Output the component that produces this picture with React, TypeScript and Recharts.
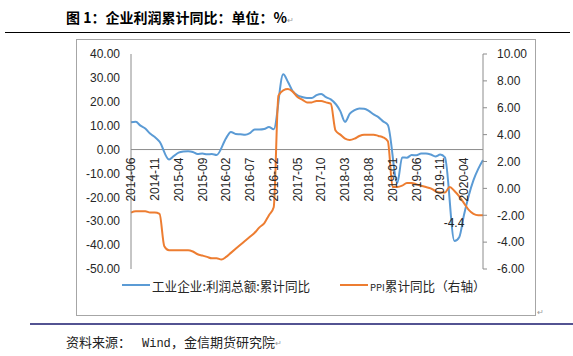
import React from "react";
import { LineChart, Line, XAxis, YAxis, ReferenceLine, Legend, LabelList } from "recharts";

// ---- categories (monthly, 2014-06 .. 2020-08) ----
const months: string[] = [
  "2014-06", "2014-07", "2014-08", "2014-09", "2014-10", "2014-11", "2014-12",
  "2015-01", "2015-02", "2015-03", "2015-04", "2015-05", "2015-06", "2015-07", "2015-08", "2015-09", "2015-10", "2015-11", "2015-12",
  "2016-01", "2016-02", "2016-03", "2016-04", "2016-05", "2016-06", "2016-07", "2016-08", "2016-09", "2016-10", "2016-11", "2016-12",
  "2017-01", "2017-02", "2017-03", "2017-04", "2017-05", "2017-06", "2017-07", "2017-08", "2017-09", "2017-10", "2017-11", "2017-12",
  "2018-01", "2018-02", "2018-03", "2018-04", "2018-05", "2018-06", "2018-07", "2018-08", "2018-09", "2018-10", "2018-11", "2018-12",
  "2019-01", "2019-02", "2019-03", "2019-04", "2019-05", "2019-06", "2019-07", "2019-08", "2019-09", "2019-10", "2019-11", "2019-12",
  "2020-01", "2020-02", "2020-03", "2020-04", "2020-05", "2020-06", "2020-07", "2020-08",
];

// 工业企业:利润总额:累计同比 (left axis, %), January not published
const profit: (number | null)[] = [
  11.4, 11.6, 10.0, 8.8, 6.7, 5.3, 3.3,
  null, -4.2, -2.7, -1.3, -0.8, -0.7, -1.0, -1.9, -1.7, -2.0, -1.9, -2.3,
  null, 4.8, 7.4, 6.5, 6.4, 6.2, 6.9, 8.4, 8.4, 8.6, 9.4, 8.5,
  null, 31.5, 28.3, 24.4, 22.7, 22.0, 21.6, 21.6, 22.8, 23.3, 21.9, 21.0,
  null, 16.1, 11.6, 15.0, 16.5, 17.2, 17.1, 16.2, 14.7, 13.6, 11.8, 10.3,
  null, -14.0, -3.3, -3.4, -2.3, -2.4, -1.7, -1.7, -2.1, -2.9, -2.1, -3.3,
  null, -38.3, -36.7, -27.4, -19.3, -12.8, -8.1, -4.4,
];

// PPI累计同比 (right axis, %)
const ppi: number[] = [
  -1.8, -1.7, -1.7, -1.7, -1.8, -1.8, -1.9,
  -4.3, -4.6, -4.6, -4.6, -4.6, -4.6, -4.7, -4.9, -5.0, -5.1, -5.2, -5.2,
  -5.3, -5.1, -4.8, -4.5, -4.2, -3.9, -3.6, -3.3, -2.9, -2.6, -2.0, -1.4,
  6.9, 7.3, 7.4, 7.2, 6.8, 6.6, 6.4, 6.4, 6.5, 6.5, 6.4, 6.3,
  4.3, 4.0, 3.7, 3.6, 3.7, 3.9, 4.0, 4.0, 4.0, 3.9, 3.8, 3.5,
  0.1, 0.1, 0.2, 0.4, 0.4, 0.3, 0.2, 0.1, 0.0, -0.2, -0.3, -0.3,
  0.1, -0.2, -0.6, -1.1, -1.6, -1.9, -2.0, -2.0,
];

const leftTicks = [-50, -40, -30, -20, -10, 0, 10, 20, 30, 40];
const rightTicks = [-6, -4, -2, 0, 2, 4, 6, 8, 10];
const seriesNames = ["工业企业:利润总额:累计同比", "PPI累计同比（右轴）"];
const titleText = "图 1：企业利润累计同比：单位：%";
const sourceLabel = "资料来源：";
const sourceWind = "Wind";
const sourceRest = "，金信期货研究院";

const data = months.map((m, i) => ({ month: m, profit: profit[i], ppi: ppi[i] }));

// ---- layout ----
const W = 573;
const H = 356;
const M_TOP = 54;
const M_BOTTOM = 86;
const M_LEFT = 60;
const M_RIGHT = 30;
const XAXIS_H = 1;
const PLOT_H = H - M_TOP - M_BOTTOM - XAXIS_H;
const L_MIN = -50;
const L_MAX = 40;
const R_MIN = -6;
const R_MAX = 10;

const BLUE = "#5B9BD5";
const ORANGE = "#ED7D31";
const AXIS = "#8C8C8C";
const TXT = "#262626";
const NUM_FONT = "'Liberation Sans', Arial, sans-serif";
const CJK_FONT = "'Noto Sans CJK SC', sans-serif";

const XTick = (props: any) => {
  const { x, y, payload } = props;
  const yZero = y - (PLOT_H * (0 - L_MIN)) / (L_MAX - L_MIN);
  const ty = yZero + 8;
  return (
    <text
      x={x}
      y={ty}
      dy="0.35em"
      transform={`rotate(-90, ${x}, ${ty})`}
      textAnchor="end"
      fontSize={12}
      fill={TXT}
      fontFamily={NUM_FONT}
    >
      {payload.value}
    </text>
  );
};

const renderLegend = (props: any) => {
  const payload = [...(props.payload || [])].sort(
    (a: any, b: any) => seriesNames.indexOf(a.value) - seriesNames.indexOf(b.value)
  );
  const lefts = [122, 340];
  return (
    <div style={{ position: "relative", width: W, height: 18 }}>
      {payload.map((entry: any, i: number) => {
        const name: string = entry.value;
        const isPPI = name.startsWith("PPI");
        return (
          <div
            key={i}
            style={{
              position: "absolute",
              left: lefts[i],
              top: 0,
              height: 18,
              display: "flex",
              alignItems: "center",
              whiteSpace: "nowrap",
            }}
          >
            <span style={{ display: "inline-block", width: 28, height: 2, background: entry.color, marginRight: 2 }} />
            <span style={{ fontFamily: CJK_FONT, fontSize: 12.6, color: TXT }}>
              {isPPI ? (
                <>
                  <span style={{ fontSize: 9.5 }}>PPI</span>
                  {name.slice(3)}
                </>
              ) : (
                name
              )}
            </span>
          </div>
        );
      })}
    </div>
  );
};

const LastLabel = (p: any) => {
  if (p.index !== profit.length - 1) return null;
  return (
    <text x={p.x - 29} y={p.y + 67} textAnchor="middle" fontSize={12} fill={TXT} fontFamily={NUM_FONT}>
      {Number(p.value).toFixed(1)}
    </text>
  );
};

export default function App() {
  return (
    <div style={{ position: "absolute", left: 0, top: 0, width: W, height: H, background: "#fff" }}>
      <svg width={W} height={H} style={{ position: "absolute", left: 0, top: 0 }}>
        <text x={66} y={23} fontSize={14} fontWeight="bold" fill="#000" fontFamily={CJK_FONT}>
          {titleText}
        </text>
        <text x={287} y={23} fontSize={8} fill="#999" fontFamily={CJK_FONT}>↵</text>
        <line x1={5} y1={32.5} x2={570} y2={32.5} stroke="#000" strokeWidth={1} />
        <rect x={76.5} y={39.5} width={459} height={276} fill="none" stroke="#A6A6A6" strokeWidth={1} />
        <text x={537} y={315} fontSize={8} fill="#999" fontFamily={CJK_FONT}>↵</text>
        <line x1={30} y1={324} x2={573} y2={324} stroke="#1A1A6E" strokeWidth={1.5} />
        <text x={66} y={347} fontSize={13} fill="#222" fontFamily={CJK_FONT}>
          {sourceLabel}
        </text>
        <text x={142} y={347} fontSize={12} fill="#222" fontFamily="'Liberation Mono', monospace">
          {sourceWind}
        </text>
        <text x={171} y={347} fontSize={13} fill="#222" fontFamily={CJK_FONT}>
          {sourceRest}
        </text>
        <text x={275} y={346} fontSize={8} fill="#999" fontFamily={CJK_FONT}>↵</text>
      </svg>
      <div style={{ position: "absolute", left: 0, top: 0 }}>
        <LineChart
          width={W}
          height={H}
          data={data}
          margin={{ top: M_TOP, right: M_RIGHT, bottom: M_BOTTOM, left: M_LEFT }}
        >
          <XAxis
            dataKey="month"
            height={XAXIS_H}
            axisLine={false}
            tickLine={false}
            tickSize={0}
            tickMargin={0}
            interval={4}
            tick={<XTick />}
          />
          <YAxis
            yAxisId="left"
            width={71}
            domain={[L_MIN, L_MAX]}
            ticks={leftTicks}
            tickFormatter={(v: number) => v.toFixed(2)}
            axisLine={{ stroke: AXIS }}
            tickLine={false}
            tickSize={0}
            tickMargin={11}
            tick={{ fontSize: 12, fill: TXT, fontFamily: NUM_FONT }}
            interval={0}
          />
          <YAxis
            yAxisId="right"
            orientation="right"
            width={60}
            domain={[R_MIN, R_MAX]}
            ticks={rightTicks}
            tickFormatter={(v: number) => v.toFixed(2)}
            axisLine={{ stroke: AXIS }}
            tickLine={{ stroke: AXIS }}
            tickSize={4}
            tickMargin={10}
            tick={{ fontSize: 12, fill: TXT, fontFamily: NUM_FONT }}
            interval={0}
          />
          <ReferenceLine yAxisId="left" y={0} stroke={AXIS} strokeWidth={1} />
          <Legend
            layout="horizontal"
            verticalAlign="middle"
            align="center"
            wrapperStyle={{ left: 0, top: 276, width: W, height: 18 }}
            content={renderLegend}
          />
          <Line
            yAxisId="left"
            type="monotone"
            dataKey="profit"
            name={seriesNames[0]}
            stroke={BLUE}
            strokeWidth={2}
            dot={false}
            connectNulls
            isAnimationActive={false}
          >
            <LabelList dataKey="profit" content={<LastLabel />} />
          </Line>
          <Line
            yAxisId="right"
            type="monotone"
            dataKey="ppi"
            name={seriesNames[1]}
            stroke={ORANGE}
            strokeWidth={2}
            dot={false}
            isAnimationActive={false}
          />
        </LineChart>
      </div>
    </div>
  );
}
